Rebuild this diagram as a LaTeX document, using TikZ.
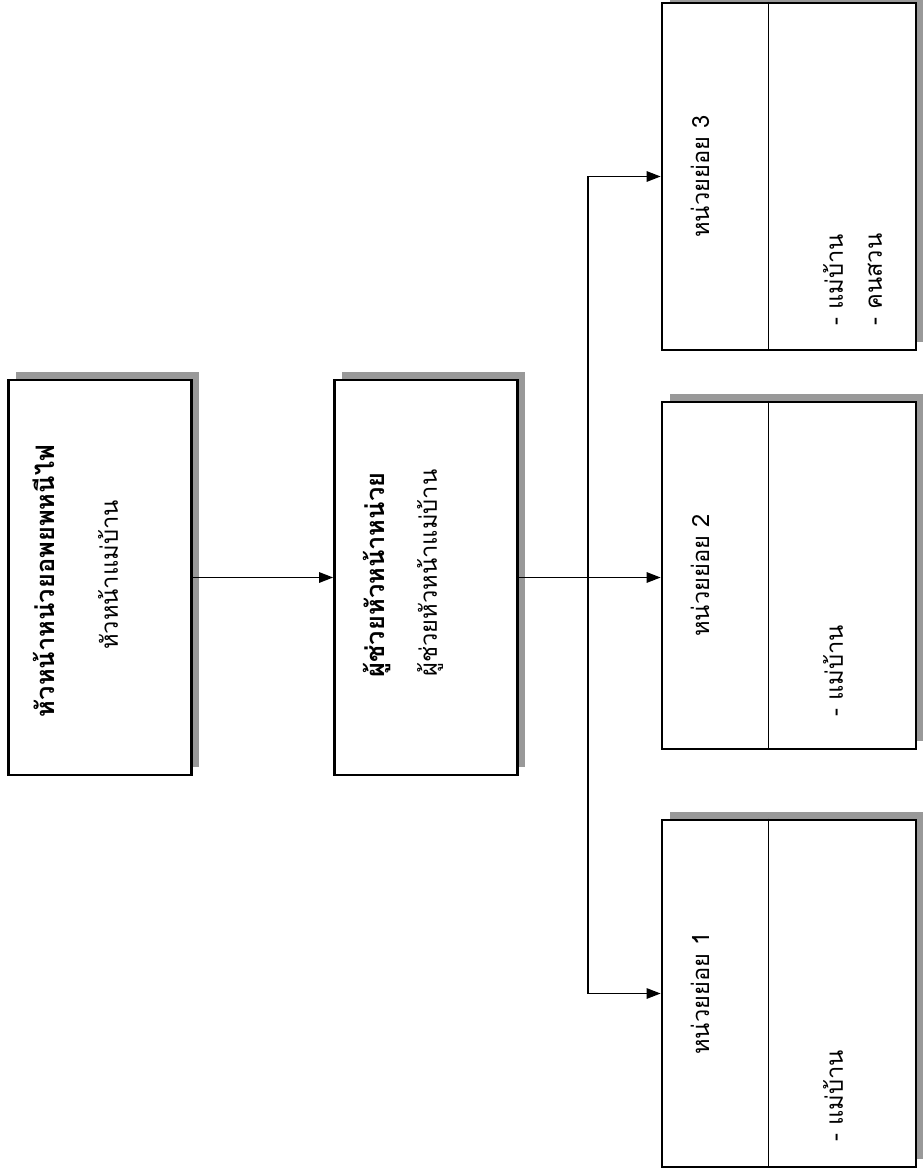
\documentclass[tikz,border=0pt]{standalone}
\usepackage{fontspec}
\newfontfamily\thaifont[Script=Thai]{Loma}
\usetikzlibrary{arrows.meta,shadows}
\begin{document}
\begin{tikzpicture}[x=0.02cm,y=-0.02cm,>={Triangle[length=8pt,width=6pt]},
        box/.style={draw,line width=1.6pt,fill=white,
            drop shadow={shadow xshift=4.5pt,shadow yshift=4.5pt,fill=black!40,opacity=1}},
        head/.style={box,minimum width=3.66cm,minimum height=7.9cm},
        unit/.style={box,minimum width=5.08cm,minimum height=6.94cm},
        txt/.style={rotate=90,inner sep=0pt,font=\thaifont\fontsize{13.5}{15}\selectfont},
        bold/.style={txt,font=\thaifont\bfseries\fontsize{14.5}{16}\selectfont},
        item/.style={txt,anchor=west}]
        % frame
        \useasboundingbox (0,0) rectangle (922,1175);
        % boxes
        \node[head] (chief) at (100,577.5) {};
        \node[head] (assist) at (426,577.5) {};
        \node[unit] (unitc) at (789,176.5) {};
        \node[unit] (unitb) at (789,575.5) {};
        \node[unit] (unita) at (789,993.5) {};
        \foreach \u in {unita,unitb,unitc}
            \draw[line width=.8pt] ([xshift=2.16cm]\u.north west) -- ([xshift=2.16cm]\u.south west);
        % texts
        \node[bold] (chiefa) at (44,581) {หัวหน้าหน่วยอพยพหนีไฟ};
        \node[txt] (chiefb) at (108,575) {หัวหน้าแม่บ้าน};
        \node[bold] (assista) at (377,575) {ผู้ช่วยหัวหน้าหน่วย};
        \node[txt] (assistb) at (430,573) {ผู้ช่วยหัวหน้าแม่บ้าน};
        \node[txt] (unitct) at (700,176.5) {หน่วยย่อย 3};
        \node[txt] (unitbt) at (700,575.5) {หน่วยย่อย 2};
        \node[txt] (unitat) at (700,993.5) {หน่วยย่อย 1};
        \node[item] (unitci) at (833,326) {- แม่บ้าน};
        \node[item] (unitcj) at (875,326) {- คนสวน};
        \node[item] (unitbi) at (833,717) {- แม่บ้าน};
        \node[item] (unitai) at (833,1142) {- แม่บ้าน};
        % connectors
        \coordinate (split) at (588,577.5);
        \draw[line width=.8pt,->] (chief.east) -- (assist.west);
        \draw[line width=.8pt,->] (assist.east) -- (assist.east -| unitb.west);
        \draw[line width=.8pt,->] (split) |- (unitc.west);
        \draw[line width=.8pt,->] (split) |- (unita.west);
\end{tikzpicture}
\end{document}
